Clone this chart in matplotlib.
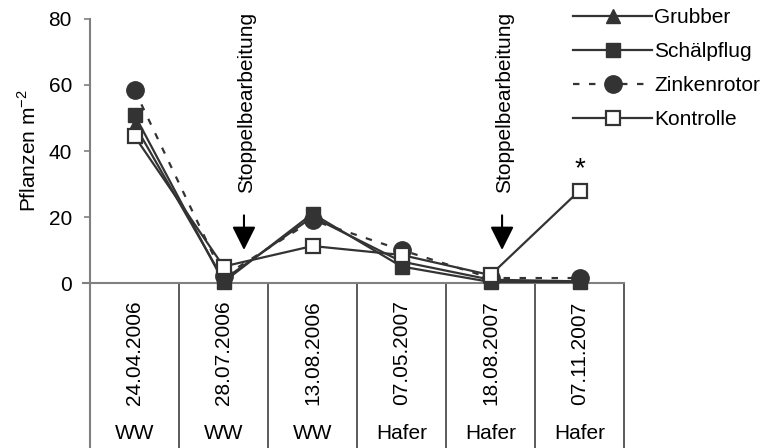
import matplotlib
matplotlib.use("Agg")
import matplotlib.pyplot as plt
from matplotlib.transforms import blended_transform_factory

plt.rcParams['font.family'] = ['Liberation Sans', 'DejaVu Sans']
plt.rcParams['mathtext.fontset'] = 'custom'
plt.rcParams['mathtext.rm'] = 'Liberation Sans'

dates = ['24.04.2006', '28.07.2006', '13.08.2006', '07.05.2007', '18.08.2007', '07.11.2007']
crops = ['WW', 'WW', 'WW', 'Hafer', 'Hafer', 'Hafer']
grubber = [48, 1, 20, 6.5, 1, 0.5]
schaelpflug = [51, 0.3, 21, 5, 0.3, 0.3]
zinkenrotor = [58.5, 2, 19, 10, 1.5, 1.5]
kontrolle = [44.5, 5, 11.2, 8.5, 2.4, 28]
yticks = [0, 20, 40, 60, 80]
events = [1.73, 4.63]   # Stoppelbearbeitung positions (category units)

W, H = 769, 448
fig = plt.figure(figsize=(W / 100, H / 100), dpi=100)
x0, x1, y0, y1 = 90, 624, 283, 19
ax = fig.add_axes([x0 / W, 1 - y0 / H, (x1 - x0) / W, (y0 - y1) / H])

col = '#333333'
xs = [i + 0.5 for i in range(len(dates))]
lw = 1.6
ax.plot(xs, grubber, color=col, lw=lw, marker='^', ms=10, mfc=col, mec=col, label='Grubber', clip_on=False, zorder=3)
ax.plot(xs, schaelpflug, color=col, lw=lw, marker='s', ms=10, mfc=col, mec=col, label='Schälpflug', clip_on=False, zorder=4)
ax.plot(xs, zinkenrotor, color=col, lw=lw, dashes=(2.9, 4.3), marker='o', ms=12.5, mfc=col, mec=col, label='Zinkenrotor', clip_on=False, zorder=5)
ax.plot(xs, kontrolle, color=col, lw=lw, marker='s', ms=10, mfc='white', mec=col, mew=1.6, label='Kontrolle', clip_on=False, zorder=6)

ax.set_xlim(0, len(dates))
ax.set_ylim(0, 80)
ax.set_yticks(yticks)
ax.set_xticks([])
for s in ['top', 'right']:
    ax.spines[s].set_visible(False)
for s in ['left', 'bottom']:
    ax.spines[s].set_color('#808080')
    ax.spines[s].set_linewidth(1.5)
ax.tick_params(axis='y', direction='out', length=4, width=1.2, color='#808080', labelsize=15, pad=9)
ax.set_ylabel('Pflanzen m$^{\\mathregular{-2}}$', fontsize=15, labelpad=6)

# table below axis
trans = blended_transform_factory(ax.transData, ax.transAxes)
bottom = -(H - y0) / (y0 - y1)
ax.plot([-0.08, 0], [0, 0], transform=trans, color='#808080', lw=1.5, clip_on=False)
for i in range(len(dates) + 1):
    ax.plot([i, i], [0, bottom], transform=trans, color='#404040' if i > 0 else '#808080',
            lw=1.2 if i > 0 else 1.5, clip_on=False)
for i, (d, c) in enumerate(zip(dates, crops)):
    ax.text(i + 0.5, -(353 - y0) / (y0 - y1), d, transform=trans, rotation=90,
            ha='center', va='center', fontsize=15)
    ax.text(i + 0.5, -(433 - y0) / (y0 - y1), c, transform=trans,
            ha='center', va='center', fontsize=15)

for ex in events:
    ax.text(ex + 0.03, 54.8, 'Stoppelbearbeitung', rotation=90, ha='center', va='center', fontsize=15)
    ax.annotate('', xy=(ex, 10), xytext=(ex, 20.5),
                arrowprops=dict(arrowstyle='-|>,head_length=0.72,head_width=0.36',
                                color='black', lw=1.5, mutation_scale=20,
                                shrinkA=0, shrinkB=0))

ax.text(5.5, 34.5, '*', ha='center', va='center', fontsize=20)

leg = ax.legend(loc='upper left', bbox_to_anchor=(573 / W, 1 - 8 / H), bbox_transform=fig.transFigure,
                frameon=False, fontsize=15, handlelength=3.8, handletextpad=0.1,
                labelspacing=0.72, borderpad=0, borderaxespad=0)

fig.savefig('out.png', dpi=100)
